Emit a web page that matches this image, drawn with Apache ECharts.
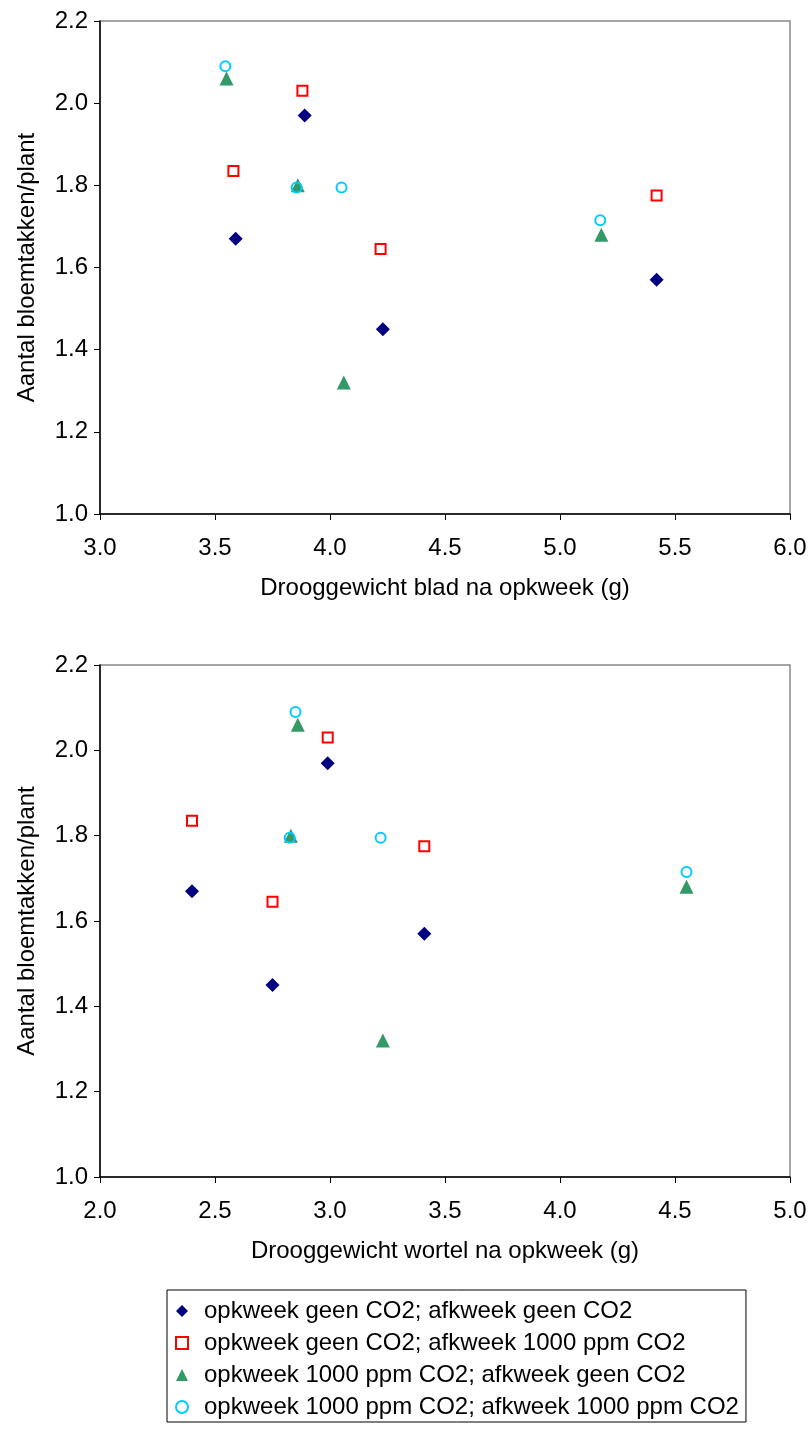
<!DOCTYPE html>
<html>
<head>
<meta charset="utf-8">
<script src="https://cdn.jsdelivr.net/npm/echarts@6/dist/echarts.min.js"></script>
<style>
html,body{margin:0;padding:0;background:#fff;}
#chart{width:810px;height:1430px;}
</style>
</head>
<body>
<div id="chart"></div>
<script>
// Series names (legend)
const seriesNames = [
  'opkweek geen CO2; afkweek geen CO2',
  'opkweek geen CO2; afkweek 1000 ppm CO2',
  'opkweek 1000 ppm CO2; afkweek geen CO2',
  'opkweek 1000 ppm CO2; afkweek 1000 ppm CO2'
];
// Y values: Aantal bloemtakken/plant
const yGeenGeen   = [1.67, 1.97, 1.45, 1.57];
const yGeen1000   = [1.835, 2.03, 1.645, 1.775];
const y1000Geen   = [2.06, 1.80, 1.32, 1.68];
const y10001000   = [2.09, 1.795, 1.795, 1.715];
// X values chart 1: Drooggewicht blad na opkweek (g)
const bladGeenGeen = [3.59, 3.89, 4.23, 5.42];
const bladGeen1000 = [3.58, 3.88, 4.22, 5.42];
const blad1000Geen = [3.55, 3.86, 4.06, 5.18];
const blad10001000 = [3.545, 3.855, 4.05, 5.175];
// X values chart 2: Drooggewicht wortel na opkweek (g)
const wortelGeenGeen = [2.40, 2.99, 2.75, 3.41];
const wortelGeen1000 = [2.40, 2.99, 2.75, 3.41];
const wortel1000Geen = [2.86, 2.83, 3.23, 4.55];
const wortel10001000 = [2.85, 2.825, 3.22, 4.55];

const FONT = 'Liberation Sans, Arial, sans-serif';
const FS = 24;

function pairs(xs, ys){ return xs.map((x,i)=>[x, ys[i]]); }

const styles = [
  {symbol:'diamond', symbolSize:14, itemStyle:{color:'#000080', opacity:1}},
  {symbol:'rect', symbolSize:10, itemStyle:{color:'rgba(255,255,255,0)', borderColor:'#FF0000', borderWidth:2, opacity:1}},
  {symbol:'triangle', symbolSize:14, itemStyle:{color:'#339966', opacity:1}},
  {symbol:'circle', symbolSize:10, itemStyle:{color:'rgba(255,255,255,0)', borderColor:'#00CCFF', borderWidth:2, opacity:1}}
];

const xs1 = [bladGeenGeen, bladGeen1000, blad1000Geen, blad10001000];
const xs2 = [wortelGeenGeen, wortelGeen1000, wortel1000Geen, wortel10001000];
const ys = [yGeenGeen, yGeen1000, y1000Geen, y10001000];

const series = [];
for (let g=0; g<2; g++){
  const xsArr = g===0 ? xs1 : xs2;
  for (let s=0; s<4; s++){
    series.push(Object.assign({
      name: seriesNames[s],
      type: 'scatter',
      xAxisIndex: g, yAxisIndex: g,
      data: pairs(xsArr[s], ys[s]),
      emphasis: {disabled: true}
    }, JSON.parse(JSON.stringify(styles[s]))));
  }
}

function xAxis(idx, min, max, name){
  return {
    type:'value', gridIndex: idx, min:min, max:max, interval:0.5,
    name:name, nameLocation:'middle', nameGap:62,
    nameTextStyle:{fontFamily:FONT, fontSize:FS, color:'#000'},
    axisLine:{show:true, onZero:false, lineStyle:{color:'#000', width:1.5}},
    axisTick:{show:true, inside:false, length:6, lineStyle:{color:'#000'}},
    axisLabel:{fontFamily:FONT, fontSize:FS, color:'#000', margin:22, formatter:v=>v.toFixed(1)},
    splitLine:{show:false}
  };
}
function yAxis(idx){
  return {
    type:'value', gridIndex: idx, min:1.0, max:2.2, interval:0.2,
    name:'Aantal bloemtakken/plant', nameLocation:'middle', nameGap:61, nameRotate:90,
    nameTextStyle:{fontFamily:FONT, fontSize:FS, color:'#000'},
    axisLine:{show:true, onZero:false, lineStyle:{color:'#000', width:1.5}},
    axisTick:{show:true, inside:false, length:6, lineStyle:{color:'#000'}},
    axisLabel:{fontFamily:FONT, fontSize:FS, color:'#000', margin:12, formatter:v=>v.toFixed(1)},
    splitLine:{show:false}
  };
}

const chart = echarts.init(document.getElementById('chart'), null, {renderer:'canvas'});
chart.setOption({
  backgroundColor:'#fff',
  animation:false,
  textStyle:{fontFamily:FONT},
  grid:[
    {left:100, top:21, width:690, height:493, show:true, borderColor:'#888', borderWidth:1.5, backgroundColor:'transparent'},
    {left:100, top:665, width:690, height:512, show:true, borderColor:'#888', borderWidth:1.5, backgroundColor:'transparent'}
  ],
  xAxis:[
    xAxis(0, 3.0, 6.0, 'Drooggewicht blad na opkweek (g)'),
    xAxis(1, 2.0, 5.0, 'Drooggewicht wortel na opkweek (g)')
  ],
  yAxis:[yAxis(0), yAxis(1)],
  legend:{
    data: seriesNames,
    orient:'vertical',
    left:167, top:1290,
    backgroundColor:'#fff',
    borderColor:'#000', borderWidth:1,
    padding:[9, 7, 3, 8],
    itemGap:8,
    itemWidth:12, itemHeight:12,
    selectedMode:false,
    textStyle:{fontFamily:FONT, fontSize:FS, color:'#000', padding:[0,0,0,11]}
  },
  series: series
});
</script>
</body>
</html>
